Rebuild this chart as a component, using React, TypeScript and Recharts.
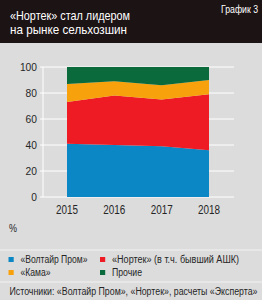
import React from "react";
import { AreaChart, Area, XAxis, YAxis, CartesianGrid } from "recharts";

const years = ["2015", "2016", "2017", "2018"];
const voltair = [41, 40, 39, 36];
const nortek = [32, 38, 36, 43];
const kama = [14, 11, 11, 11];
const other = [13, 11, 14, 10];
const yTicks = [0, 20, 40, 60, 80, 100];

const series = [
  { key: "voltair", name: "«Волтайр Пром»", color: "#0a87c4", values: voltair, w: 67 },
  { key: "nortek", name: "«Нортек» (в т.ч. бывший АШК)", color: "#ee1b24", values: nortek, w: 127 },
  { key: "kama", name: "«Кама»", color: "#f7a20c", values: kama, w: 30 },
  { key: "other", name: "Прочие", color: "#0b6a3c", values: other, w: 30 },
];

const data = years.map((y, i) => {
  const row: Record<string, number | string> = { year: y };
  series.forEach((s) => (row[s.key] = s.values[i]));
  return row;
});

const FONT = '"Liberation Sans", Arial, sans-serif';
const TXT = "#262626";

function T({ x, y, size, w, fill = TXT, anchor = "start", children }: any) {
  return (
    <text
      x={x}
      y={y}
      fontSize={size}
      fontFamily={FONT}
      fill={fill}
      textAnchor={anchor}
      textLength={w}
      lengthAdjust="spacingAndGlyphs"
    >
      {children}
    </text>
  );
}

const XTick = (props: any) => {
  const { x, y, payload } = props;
  return (
    <T x={x} y={y + 17} size={12} w={22} anchor="middle">
      {payload.value}
    </T>
  );
};

const YTick = (props: any) => {
  const { x, y, payload } = props;
  const s = String(payload.value);
  return (
    <T x={x} y={y + 4} size={11} w={s.length * 5.7} anchor="end">
      {s}
    </T>
  );
};

export default function App() {
  return (
    <div style={{ position: "absolute", left: 0, top: 0, width: 262, height: 300, background: "#dcdcdc", overflow: "hidden" }}>
      <div style={{ position: "absolute", left: 0, top: 0, width: 262, height: 43, background: "#1c1315" }} />
      <div style={{ position: "absolute", left: 0, top: 0 }}>
        <AreaChart width={262} height={300} data={data} margin={{ top: 67, right: 28, bottom: 83, left: 0 }}>
          <CartesianGrid vertical={false} stroke="#ffffff" strokeWidth={1} />
          <XAxis
            dataKey="year"
            height={20}
            padding={{ left: 24, right: 25 }}
            axisLine={false}
            tickLine={false}
            tickSize={0}
            tickMargin={0}
            tick={<XTick />}
          />
          <YAxis
            width={43}
            domain={[0, 100]}
            ticks={yTicks}
            interval={0}
            axisLine={{ stroke: "#ffffff" }}
            tickLine={{ stroke: "#ffffff" }}
            tickSize={3}
            tickMargin={3}
            tick={<YTick />}
          />
          <YAxis
            yAxisId="r"
            orientation="right"
            width={0}
            domain={[0, 100]}
            tick={false}
            tickLine={false}
            axisLine={{ stroke: "#ffffff" }}
          />
          {series.map((s) => (
            <Area
              key={s.key}
              dataKey={s.key}
              stackId="a"
              type="linear"
              stroke="none"
              fill={s.color}
              fillOpacity={1}
              isAnimationActive={false}
            />
          ))}
        </AreaChart>
      </div>
      <svg width={262} height={300} style={{ position: "absolute", left: 0, top: 0, pointerEvents: "none" }}>
        <T x={10} y={19.5} size={13.5} w={120} fill="#ffffff">«Нортек» стал лидером</T>
        <T x={10} y={34.3} size={13.5} w={117} fill="#ffffff">на рынке сельхозшин</T>
        <T x={221} y={12.7} size={10.7} w={37} fill="#ffffff">График 3</T>
        <T x={9} y={232} size={11} w={8}>%</T>
        <rect x={0} y={249.5} width={262} height={1} fill="#f2f2f2" />
        {series.map((s, i) => {
          const x = i % 2 === 0 ? 8.5 : 100;
          const base = i < 2 ? 263 : 276;
          return (
            <g key={s.key}>
              <rect x={x} y={base - 6} width={5.2} height={5} fill={s.color} />
              <T x={x + 12} y={base} size={10} w={s.w}>{s.name}</T>
            </g>
          );
        })}
        <rect x={0} y={281.5} width={262} height={1} fill="#f2f2f2" />
        <T x={9.5} y={295} size={10} w={248}>Источники: «Волтайр Пром», «Нортек», расчеты «Эксперта»</T>
      </svg>
    </div>
  );
}
